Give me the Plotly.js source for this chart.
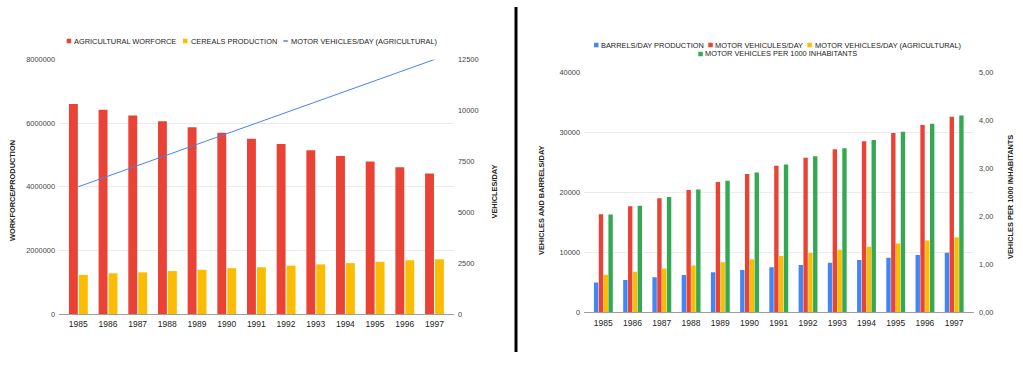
<!DOCTYPE html>
<html>
<head>
<meta charset="utf-8">
<script src="https://cdn.plot.ly/plotly-3.0.1.min.js"></script>
<style>html,body{margin:0;padding:0;background:#fff;}#chart{width:1023px;height:368px;}</style>
</head>
<body>
<div id="chart"></div>
<script>
// ---- data ----
const years = ['1985','1986','1987','1988','1989','1990','1991','1992','1993','1994','1995','1996','1997'];
// left chart
const agriculturalWorkforce = [6600000, 6420000, 6240000, 6060000, 5870000, 5700000, 5510000, 5340000, 5150000, 4970000, 4790000, 4610000, 4420000];
const cerealsProduction = [1230000, 1280000, 1310000, 1350000, 1390000, 1440000, 1470000, 1520000, 1560000, 1600000, 1640000, 1690000, 1720000];
const motorVehiclesAgri = [6250, 6770, 7290, 7810, 8330, 8850, 9370, 9890, 10410, 10930, 11450, 11970, 12500];
// right chart
const barrelsPerDay = [4950, 5380, 5830, 6220, 6670, 7050, 7500, 7880, 8270, 8720, 9100, 9550, 9930];
const motorVehiculesPerDay = [16330, 17670, 19000, 20380, 21720, 23050, 24430, 25770, 27170, 28500, 29880, 31220, 32600];
const vehiclesPer1000 = [2.04, 2.22, 2.40, 2.56, 2.74, 2.91, 3.08, 3.25, 3.42, 3.59, 3.76, 3.93, 4.10];
// series names / titles
const leftSeriesNames = ['AGRICULTURAL WORFORCE', 'CEREALS PRODUCTION', 'MOTOR VEHICLES/DAY (AGRICULTURAL)'];
const rightSeriesNames = ['BARRELS/DAY PRODUCTION', 'MOTOR VEHICULES/DAY', 'MOTOR VEHICLES/DAY (AGRICULTURAL)', 'MOTOR VEHICLES PER 1000 INHABITANTS'];
const leftTitleY = 'WORKFORCE/PRODUCTION';
const leftTitleY2 = 'VEHICLES/DAY';
const rightTitleY = 'VEHICLES AND BARRELS/DAY';
const rightTitleY2 = 'VEHICLES PER 1000 INHABITANTS';

const W = 1023, H = 368;
const px = v => v / W;
const py = v => 1 - v / H;
const FONT = '"Liberation Sans", Arial, sans-serif';
const RED = '#ea4335', YEL = '#fbbc04', BLUE = '#4285f4', GREEN = '#34a853';

const traces = [
  {type:'bar', name:leftSeriesNames[0], x:years, y:agriculturalWorkforce, xaxis:'x', yaxis:'y',
   marker:{color:RED}, width:0.30, offset:-0.315},
  {type:'bar', name:leftSeriesNames[1], x:years, y:cerealsProduction, xaxis:'x', yaxis:'y',
   marker:{color:YEL}, width:0.30, offset:0.02},
  {type:'scatter', mode:'lines', name:leftSeriesNames[2], x:years, y:motorVehiclesAgri,
   xaxis:'x', yaxis:'y2', line:{color:BLUE, width:1}},

  {type:'bar', name:rightSeriesNames[0], x:years, y:barrelsPerDay, xaxis:'x2', yaxis:'y3',
   marker:{color:BLUE}, width:0.15, offset:-0.32},
  {type:'bar', name:rightSeriesNames[1], x:years, y:motorVehiculesPerDay, xaxis:'x2', yaxis:'y3',
   marker:{color:RED}, width:0.15, offset:-0.155},
  {type:'bar', name:rightSeriesNames[2], x:years, y:motorVehiclesAgri, xaxis:'x2', yaxis:'y3',
   marker:{color:YEL}, width:0.15, offset:0.01},
  {type:'bar', name:rightSeriesNames[3], x:years, y:vehiclesPer1000, xaxis:'x2', yaxis:'y4',
   marker:{color:GREEN}, width:0.15, offset:0.175}
];

const tickFont = {family:FONT, size:7.4, color:'#444'};
const xFont = {family:FONT, size:8.5, color:'#222'};
const legFontSize = 7.4;

// legend entries (layout only): [name, color, kind, symbolLeftPx, textLeftPx, centerYPx]
const legendItems = [
  [leftSeriesNames[0], RED, 'box', 66.7, 74, 41],
  [leftSeriesNames[1], YEL, 'box', 183, 190.7, 41],
  [leftSeriesNames[2], BLUE, 'line', 283.3, 290.7, 41],
  [rightSeriesNames[0], BLUE, 'box', 594, 601.3, 45],
  [rightSeriesNames[1], RED, 'box', 708.3, 715.3, 45],
  [rightSeriesNames[2], YEL, 'box', 807.3, 814.7, 45],
  [rightSeriesNames[3], GREEN, 'box', 698.3, 705, 54]
];

const annotations = [
  {text:'<b>'+leftTitleY+'</b>', xref:'paper', yref:'paper', x:px(12), y:py(191), textangle:-90,
   showarrow:false, font:{family:FONT, size:7.4, color:'#222'}, xanchor:'center', yanchor:'middle'},
  {text:'<b>'+leftTitleY2+'</b>', xref:'paper', yref:'paper', x:px(494), y:py(191.5), textangle:-90,
   showarrow:false, font:{family:FONT, size:7.4, color:'#222'}, xanchor:'center', yanchor:'middle'},
  {text:'<b>'+rightTitleY+'</b>', xref:'paper', yref:'paper', x:px(541), y:py(200), textangle:-90,
   showarrow:false, font:{family:FONT, size:7.4, color:'#222'}, xanchor:'center', yanchor:'middle'},
  {text:'<b>'+rightTitleY2+'</b>', xref:'paper', yref:'paper', x:px(1010), y:py(197), textangle:-90,
   showarrow:false, font:{family:FONT, size:7.4, color:'#222'}, xanchor:'center', yanchor:'middle'}
];
const shapes = [
  {type:'line', xref:'paper', yref:'paper', x0:px(516), x1:px(516), y0:py(352), y1:py(7),
   line:{color:'#000', width:3}}
];
legendItems.forEach(([name, color, kind, sx, tx, cy]) => {
  if (kind === 'box') {
    shapes.push({type:'rect', xref:'paper', yref:'paper', x0:px(sx), x1:px(sx+4.5), y0:py(cy+2.25), y1:py(cy-2.25),
                 fillcolor:color, line:{width:0}});
  } else {
    shapes.push({type:'line', xref:'paper', yref:'paper', x0:px(sx), x1:px(sx+4.5), y0:py(cy), y1:py(cy),
                 line:{color:color, width:1.5}});
  }
  annotations.push({text:name, xref:'paper', yref:'paper', x:px(tx), y:py(cy), xanchor:'left', yanchor:'middle',
                    showarrow:false, borderpad:0, borderwidth:0, font:{family:FONT, size:legFontSize, color:'#222'}});
});

const layout = {
  width:W, height:H,
  margin:{l:0, r:0, t:0, b:0},
  paper_bgcolor:'#fff', plot_bgcolor:'rgba(0,0,0,0)',
  font:{family:FONT, color:'#222'},
  separators:',.',
  barmode:'overlay',
  showlegend:false,
  xaxis:{domain:[px(59), px(454)], anchor:'y', type:'category', range:[-0.65, 12.66],
         showgrid:false, showline:true, linecolor:'#9e9e9e', linewidth:1, ticks:'', tickfont:xFont,
         ticklabelstandoff:2, fixedrange:true},
  yaxis:{domain:[py(314), py(59.5)], anchor:'x', range:[0, 8000000], tickvals:[0,2000000,4000000,6000000,8000000],
         tickformat:'d', showgrid:true, gridcolor:'#ebebeb', zeroline:false, ticks:'', tickfont:tickFont,
         ticklabelstandoff:3, fixedrange:true},
  yaxis2:{overlaying:'y', anchor:'x', side:'right', range:[0, 12500], tickvals:[0,2500,5000,7500,10000,12500],
          tickformat:'d', showgrid:false, zeroline:false, ticks:'', tickfont:tickFont, ticklabelstandoff:3, fixedrange:true},

  xaxis2:{domain:[px(584), px(974)], anchor:'y3', type:'category', range:[-0.66, 12.68],
          showgrid:false, showline:true, linecolor:'#9e9e9e', linewidth:1, ticks:'', tickfont:xFont,
          ticklabelstandoff:2, fixedrange:true},
  yaxis3:{domain:[py(312.3), py(72.3)], anchor:'x2', range:[0, 40000], tickvals:[0,10000,20000,30000,40000],
          tickformat:'d', showgrid:true, gridcolor:'#ebebeb', zeroline:false, ticks:'', tickfont:tickFont,
          ticklabelstandoff:3, fixedrange:true},
  yaxis4:{overlaying:'y3', anchor:'x2', side:'right', range:[0, 5], tickvals:[0,1,2,3,4,5],
          tickformat:'.2f', showgrid:false, zeroline:false, ticks:'', tickfont:tickFont, ticklabelstandoff:4, fixedrange:true},
  annotations:annotations,
  shapes:shapes
};

Plotly.newPlot('chart', traces, layout, {displayModeBar:false, staticPlot:true});
</script>
</body>
</html>
